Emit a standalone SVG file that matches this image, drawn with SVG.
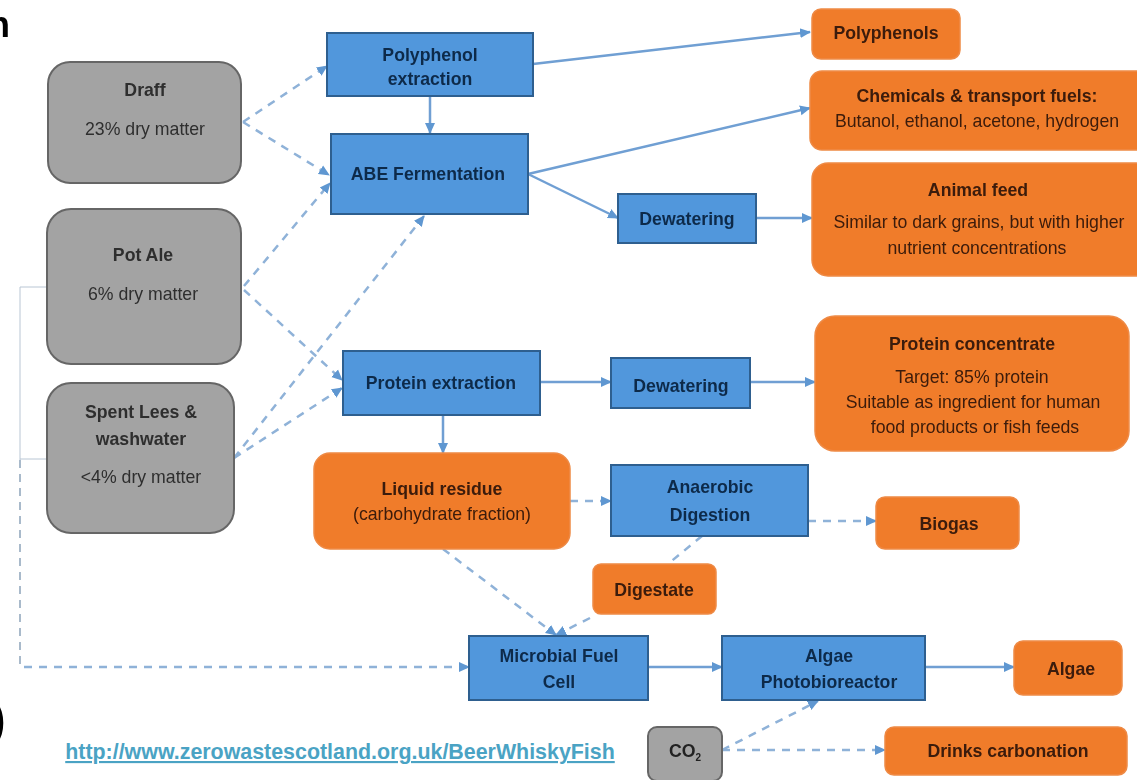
<svg xmlns="http://www.w3.org/2000/svg" width="1137" height="780" viewBox="0 0 1137 780">
<style>
text{font-family:"Liberation Sans",Arial,sans-serif;text-anchor:middle;font-size:17.7px}
.b{font-weight:bold}
.grey rect{fill:#a3a3a3;stroke:#666;stroke-width:2}
.blue rect{fill:#5197dc;stroke:#2f5f8f;stroke-width:2}
.blue text{fill:#0e2a4a;font-weight:bold}
.or rect{fill:#f07c2c;stroke:#ee8a45;stroke-width:1.5}
.or text{fill:#3a1a08}
.grey text{fill:#2e2e2e}
.c path{fill:none;stroke:#6f9fd3;stroke-width:2.5;marker-end:url(#a)}
.c .d{stroke:#8fb2d8;stroke-dasharray:8 7}
.c .t{stroke-width:1;stroke:#b9c6d4;marker-end:none}
.c .td{stroke-width:2;stroke:#a9bacb;stroke-dasharray:8 6;marker-end:none}
.soft{filter:url(#blur)}
</style>
<defs>
<filter id="blur" x="0" y="0" width="1137" height="780" filterUnits="userSpaceOnUse" primitiveUnits="userSpaceOnUse"><feGaussianBlur stdDeviation="0.6"/></filter>
<marker id="a" markerUnits="userSpaceOnUse" markerWidth="12" markerHeight="12" refX="10" refY="6" orient="auto"><path d="M0 1L11 6L0 11Z" style="fill:#5f97d1;stroke:none;stroke-dasharray:none;marker-end:none"/></marker></defs>
<rect width="1137" height="780" fill="#fff"/>
<g class="soft">
<text x="-1" y="37" style="font-size:36px;font-weight:bold;fill:#000;text-anchor:middle">n</text>
<text x="-2" y="735" style="font-size:46px;font-weight:bold;fill:#000;text-anchor:middle">)</text>
<g class="c" id="connectors">
<path class="d" d="M243 122L327 66"/>
<path class="d" d="M243 122L329 175"/>
<path class="d" d="M244 286L330 183"/>
<path class="d" d="M244 290L342 380"/>
<path class="d" d="M234 458L424 216"/>
<path class="d" d="M234 458L342 388"/>
<path d="M430 96V133"/>
<path d="M533 64L810 32"/>
<path d="M528 174L810 108"/>
<path d="M528 174L618 218"/>
<path d="M756 218H812"/>
<path d="M540 382H611"/>
<path d="M750 382H815"/>
<path d="M443 415V453"/>
<path class="d" d="M570 501H611"/>
<path class="d" d="M808 521H876"/>
<path class="d" style="marker-end:none" d="M702 536L668 564"/>
<path class="d" d="M590 618L556 635"/>
<path class="d" d="M443 549L556 635"/>
<path class="t" d="M47 287H20V460"/>
<path class="t" d="M47 459H20"/>
<path class="td" d="M20 460V668"/>
<path class="d" d="M24 667H469"/>
<path d="M648 667H722"/>
<path d="M925 667H1014"/>
<path class="d" d="M722 750L818 701"/>
<path class="d" d="M722 750H885"/>
</g>
<g id="draff" class="grey"><rect x="48" y="62" width="193" height="121" rx="22"/><text x="145" y="96" class="b">Draff</text><text x="145" y="135">23% dry matter</text></g>
<g id="potale" class="grey"><rect x="47" y="209" width="194" height="155" rx="24"/><text x="143" y="261" class="b">Pot Ale</text><text x="143" y="300">6% dry matter</text></g>
<g id="spent" class="grey"><rect x="47" y="383" width="187" height="150" rx="24"/><text x="141" y="418" class="b">Spent Lees &amp;</text><text x="141" y="445" class="b">washwater</text><text x="141" y="483">&lt;4% dry matter</text></g>
<g id="co2" class="grey"><rect x="648" y="727" width="74" height="54" rx="9"/><text x="685" y="757" class="b" style="fill:#222">CO<tspan dy="4" style="font-size:10px">2</tspan></text></g>
<g id="polyphenol" class="blue"><rect x="327" y="33" width="206" height="63"/><text x="430" y="61">Polyphenol</text><text x="430" y="85">extraction</text></g>
<g id="abe" class="blue"><rect x="331" y="134" width="197" height="80"/><text x="428" y="180">ABE Fermentation</text></g>
<g id="dew1" class="blue"><rect x="618" y="194" width="138" height="49"/><text x="687" y="225">Dewatering</text></g>
<g id="protein" class="blue"><rect x="343" y="351" width="197" height="64"/><text x="441" y="389">Protein extraction</text></g>
<g id="dew2" class="blue"><rect x="611" y="358" width="139" height="50"/><text x="681" y="392">Dewatering</text></g>
<g id="anaerobic" class="blue"><rect x="611" y="465" width="197" height="71"/><text x="710" y="493">Anaerobic</text><text x="710" y="521">Digestion</text></g>
<g id="mfc" class="blue"><rect x="469" y="636" width="179" height="64"/><text x="559" y="662">Microbial Fuel</text><text x="559" y="688">Cell</text></g>
<g id="pbr" class="blue"><rect x="722" y="636" width="203" height="64"/><text x="829" y="662">Algae</text><text x="829" y="688">Photobioreactor</text></g>
<g id="polyphenols" class="or"><rect x="812" y="9" width="148" height="50" rx="9"/><text x="886" y="39" class="b">Polyphenols</text></g>
<g id="chem" class="or"><rect x="810" y="71" width="340" height="79" rx="12"/><text x="977" y="102" class="b">Chemicals &amp; transport fuels:</text><text x="977" y="127">Butanol, ethanol, acetone, hydrogen</text></g>
<g id="feed" class="or"><rect x="812" y="163" width="340" height="113" rx="16"/><text x="978" y="196" class="b">Animal feed</text><text x="979" y="228">Similar to dark grains, but with higher</text><text x="977" y="254">nutrient concentrations</text></g>
<g id="conc" class="or"><rect x="815" y="316" width="314" height="135" rx="20"/><text x="972" y="350" class="b">Protein concentrate</text><text x="972" y="383">Target: 85% protein</text><text x="973" y="408">Suitable as ingredient for human</text><text x="975" y="433">food products or fish feeds</text></g>
<g id="liquid" class="or"><rect x="314" y="453" width="256" height="96" rx="16"/><text x="442" y="495" class="b">Liquid residue</text><text x="442" y="520">(carbohydrate fraction)</text></g>
<g id="biogas" class="or"><rect x="876" y="497" width="143" height="52" rx="9"/><text x="949" y="530" class="b">Biogas</text></g>
<g id="digestate" class="or"><rect x="593" y="564" width="123" height="50" rx="8"/><text x="654" y="596" class="b">Digestate</text></g>
<g id="algae" class="or"><rect x="1014" y="641" width="108" height="54" rx="9"/><text x="1071" y="675" class="b">Algae</text></g>
<g id="drinks" class="or"><rect x="885" y="727" width="242" height="48" rx="9"/><text x="1008" y="757" class="b">Drinks carbonation</text></g>
</g>
<text x="340" y="759" style="font-size:21.4px;font-weight:bold;fill:#4aa3c4;text-decoration:underline" id="url">http://www.zerowastescotland.org.uk/BeerWhiskyFish</text>
</svg>
